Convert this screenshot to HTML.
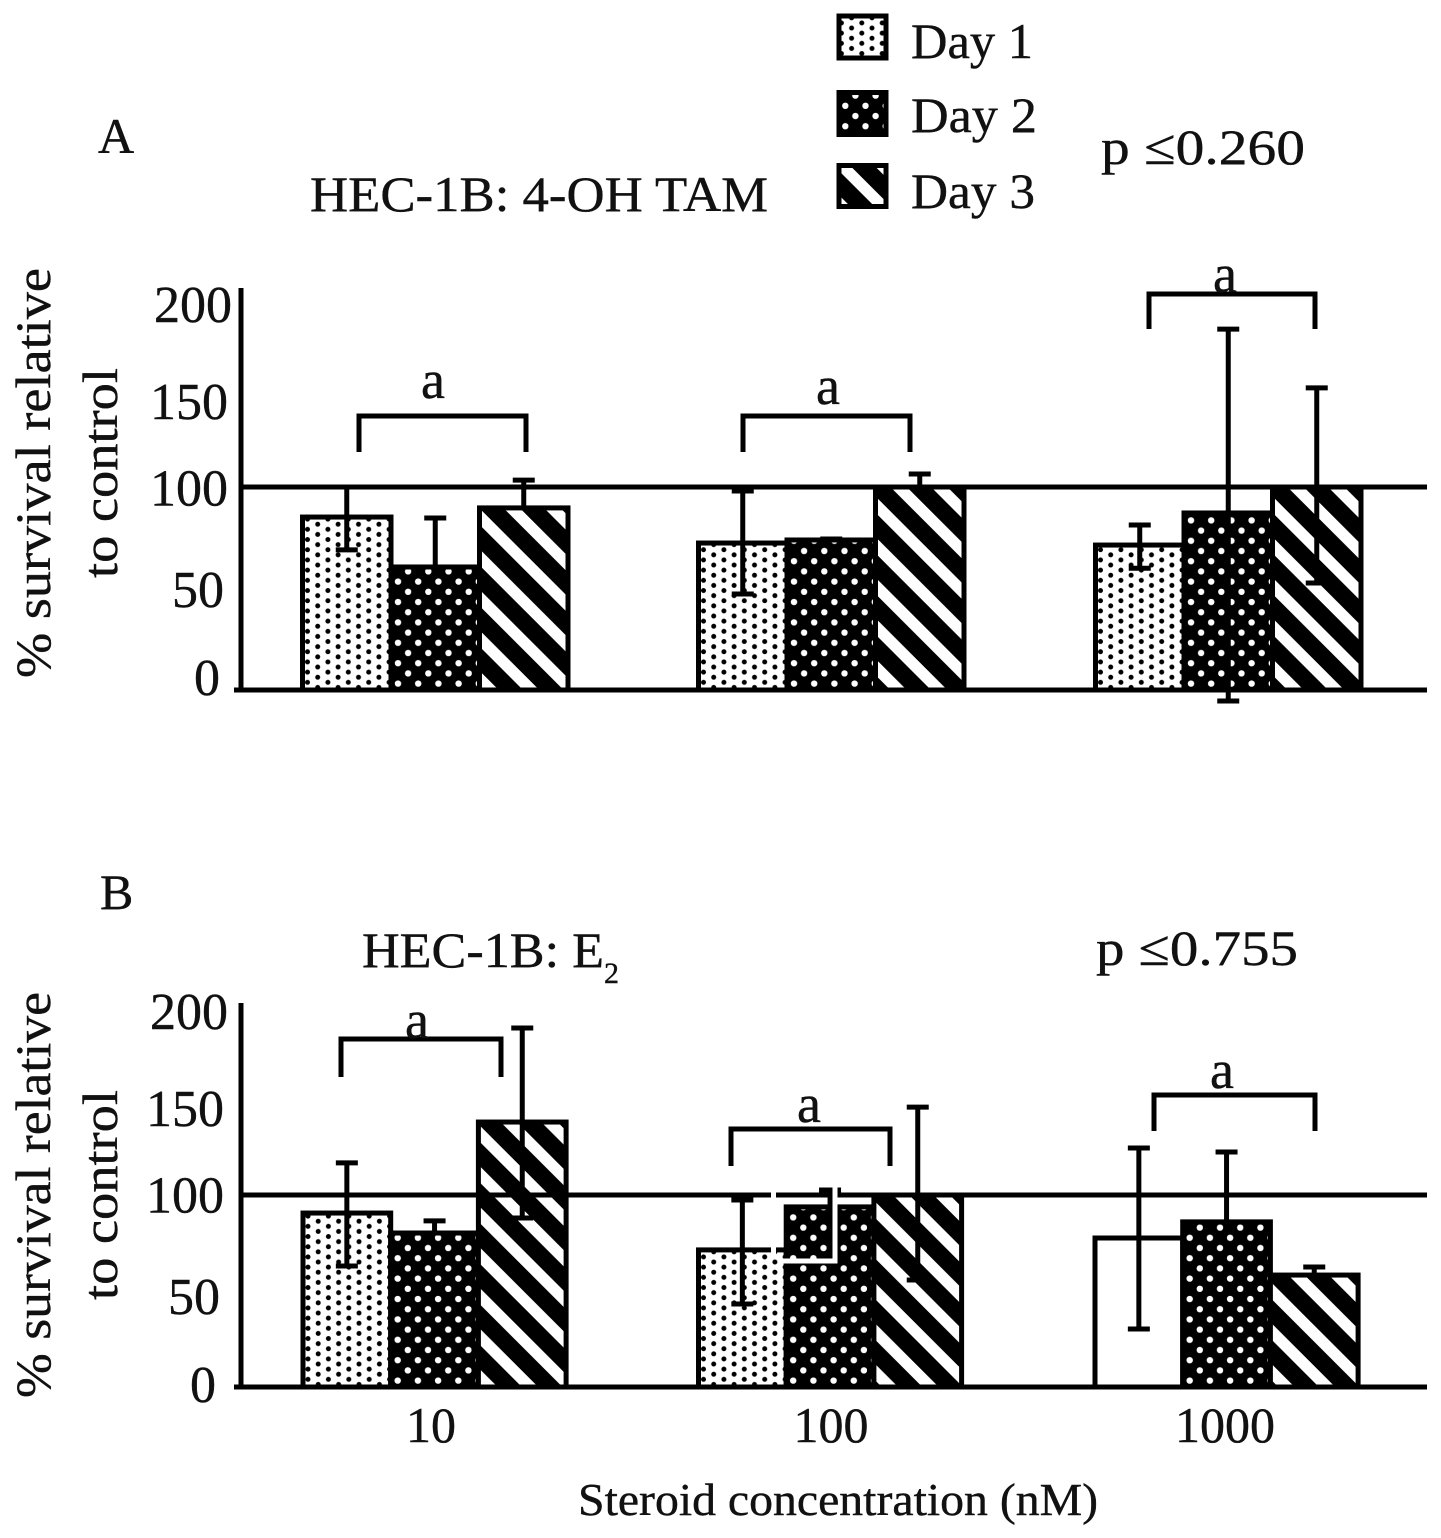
<!DOCTYPE html>
<html>
<head>
<meta charset="utf-8">
<title>HEC-1B survival charts</title>
<style>
html,body{margin:0;padding:0;background:#fff;}
svg{display:block;}
text{font-family:"Liberation Serif","DejaVu Serif",serif;fill:#111;stroke:#111;stroke-width:0.4px;}
</style>
</head>
<body>
<svg id="figure" xmlns="http://www.w3.org/2000/svg" width="1441" height="1538" viewBox="0 0 1441 1538">
  <defs>
    <pattern id="p-day1" patternUnits="userSpaceOnUse" width="20.4" height="10.2">
      <rect width="20.4" height="10.2" fill="#fff"/>
      <circle cx="5" cy="2.5" r="2.5" fill="#000"/>
      <circle cx="15.2" cy="7.6" r="2.5" fill="#000"/>
    </pattern>
    <pattern id="p-day2" patternUnits="userSpaceOnUse" width="20.2" height="20.4">
      <rect width="20.2" height="20.4" fill="#000"/>
      <circle cx="7" cy="14" r="3.2" fill="#fff"/>
      <circle cx="17.1" cy="3.8" r="3.2" fill="#fff"/>
    </pattern>
    <pattern id="p-day3" patternUnits="userSpaceOnUse" width="40.6" height="40.6">
      <rect width="40.6" height="40.6" fill="#000"/>
      <g shape-rendering="crispEdges" fill="#fff">
        <polygon points="0,0 0,16 40.6,56.6 40.6,40.6"/>
        <polygon points="0,-40.6 0,-24.6 40.6,16 40.6,0"/>
      </g>
    </pattern>
  </defs>

  <g id="legend">
    <g>
      <rect x="839" y="16" width="47" height="42" fill="url(#p-day1)" stroke="#000" stroke-width="5"/>
      <text x="911" y="58" font-size="50" textLength="122" lengthAdjust="spacingAndGlyphs">Day 1</text>
    </g>
    <g>
      <rect x="839" y="92.5" width="47" height="42" fill="url(#p-day2)" stroke="#000" stroke-width="5"/>
      <text x="911" y="132" font-size="50" textLength="126" lengthAdjust="spacingAndGlyphs">Day 2</text>
    </g>
    <g>
      <g transform="translate(0,6)">
        <rect x="839" y="159.5" width="47" height="41" fill="url(#p-day3)" stroke="#000" stroke-width="5"/>
      </g>
      <text x="911" y="208" font-size="50" textLength="124" lengthAdjust="spacingAndGlyphs">Day 3</text>
    </g>
  </g>

  <text x="98" y="153" font-size="50">A</text>
  <text x="310" y="211" font-size="50" textLength="458" lengthAdjust="spacingAndGlyphs">HEC-1B: 4-OH TAM</text>
  <text x="1101" y="164" font-size="50" textLength="204" lengthAdjust="spacingAndGlyphs">p ≤0.260</text>
  <text transform="translate(50,678) rotate(-90)" font-size="50" textLength="410" lengthAdjust="spacingAndGlyphs">% survival relative</text>
  <text transform="translate(117,578) rotate(-90)" font-size="50" textLength="210" lengthAdjust="spacingAndGlyphs">to control</text>

  <text x="100" y="909" font-size="50">B</text>
  <text x="362" y="967" font-size="50" textLength="242" lengthAdjust="spacingAndGlyphs">HEC-1B: E</text>
  <text x="604" y="983" font-size="30">2</text>
  <text x="1096" y="965" font-size="50" textLength="202" lengthAdjust="spacingAndGlyphs">p ≤0.755</text>
  <text transform="translate(50,1398) rotate(-90)" font-size="50" textLength="406" lengthAdjust="spacingAndGlyphs">% survival relative</text>
  <text transform="translate(117,1300) rotate(-90)" font-size="50" textLength="210" lengthAdjust="spacingAndGlyphs">to control</text>
  <text x="578" y="1515" font-size="46" textLength="520" lengthAdjust="spacingAndGlyphs">Steroid concentration (nM)</text>

  <g id="panel-a"></g>
  <g id="panel-b"></g>
  <g id="x-labels"></g>
</svg>

<script>
var categories = ['10', '100', '1000'];
var seriesNames = ['day-1', 'day-2', 'day-3'];
var yTickValues = [0, 50, 100, 150, 200];

var panelAValues = [[85.2, 60.6, 89.7], [72.4, 73.9, 100], [71.4, 87.2, 100]];
var panelAErrHigh = [[100, 84.7, 103.4], [98, 74.4, 106.4], [81.3, 177.8, 148.8]];
var panelAErrLow = [[69, 60.6, 89.7], [47.3, 73.9, 100], [60, -5.4, 52.7]];

var panelBValues = [[90.6, 80.2, 138], [71.4, 93.8, 100], [77.6, 86, 58.3]];
var panelBErrHigh = [[116.7, 86.5, 187], [97.4, 102.6, 145.8], [124.5, 122.4, 62.5]];
var panelBErrLow = [[63, 80.2, 88], [43.2, 65, 55.7], [30.2, 86, 58.3]];

var NS = 'http://www.w3.org/2000/svg';

function mk(parent, tag, attrs) {
  var el = document.createElementNS(NS, tag);
  for (var k in attrs) { el.setAttribute(k, attrs[k]); }
  parent.appendChild(el);
  return el;
}

function tickNudge(v) {
  if (v === 150) { return 3.5; }
  if (v === 100) { return -3; }
  if (v === 50) { return 5; }
  return 0;
}

function tickRight(v) {
  if (v === 200) { return 0; }
  if (v >= 100) { return -4; }
  if (v === 50) { return -8; }
  return -12;
}

function drawPanel(cfg) {
  var root = document.getElementById(cfg.id);
  function yScale(v) { return cfg.y0 - cfg.pxPerUnit * v; }
  function labelY(v) { return cfg.labelY0 - 1.865 * v + tickNudge(v); }
  function barLeft(g, s) { return cfg.groupLeft[g] + s * cfg.barWidth; }
  var g, s;

  for (g = 0; g < categories.length; g++) {
    for (s = 0; s < seriesNames.length; s++) {
      var left = barLeft(g, s);
      var top = yScale(cfg.values[g][s]);
      var plain = cfg.plainBar && cfg.plainBar[0] === g && cfg.plainBar[1] === s;
      var phase = s === 2 ? cfg.stripeShift[g] : 0;
      var holder = mk(root, 'g', { transform: 'translate(' + left + ',' + (cfg.y0 + phase) + ')' });
      
      
      var bar = mk(holder, 'rect', {
        x: 0,
        y: top - cfg.y0 - phase,
        width: cfg.barWidth,
        height: cfg.y0 - top,
        fill: plain ? '#fff' : 'url(#p-day' + (s + 1) + ')',
        stroke: '#000',
        'stroke-width': 5
      });
      
      
    }
  }

  var base = mk(root, 'line', { x1: 234, x2: 1427, y1: yScale(0), y2: yScale(0), stroke: '#000', 'stroke-width': 5 });
  
  
  var ref = mk(root, 'line', { x1: 241, x2: 1427, y1: yScale(100), y2: yScale(100), stroke: '#000', 'stroke-width': 5 });
  
  
  var axis = mk(root, 'line', { x1: 241, x2: 241, y1: yScale(cfg.axisMax), y2: yScale(0), stroke: '#000', 'stroke-width': 5 });
  
  

  for (g = 0; g < categories.length; g++) {
    for (s = 0; s < seriesNames.length; s++) {
      var cx = barLeft(g, s) + cfg.barWidth / 2;
      var hi = yScale(cfg.errHigh[g][s]);
      var lo = yScale(cfg.errLow[g][s]);
      var stem = mk(root, 'line', { x1: cx, x2: cx, y1: hi, y2: lo, stroke: '#000', 'stroke-width': 5 });
      
      
      var capTop = mk(root, 'line', { x1: cx - 11, x2: cx + 11, y1: hi, y2: hi, stroke: '#000', 'stroke-width': 5 });
      
      
      if (lo > hi && cfg.errLow[g][s] < cfg.values[g][s]) {
        var capLow = mk(root, 'line', { x1: cx - 11, x2: cx + 11, y1: lo, y2: lo, stroke: '#000', 'stroke-width': 5 });
        
        
      }
    }
  }

  for (var t = 0; t < yTickValues.length; t++) {
    var v = yTickValues[t];
    var label = mk(root, 'text', { x: cfg.labelRight + tickRight(v), y: labelY(v), 'text-anchor': 'end', 'font-size': 52 });
    
    
    label.textContent = String(v);
  }

  cfg.brackets.forEach(function (b) {
    var path = mk(root, 'path', {
      d: 'M' + b[0] + ',' + b[3] + ' V' + b[2] + ' H' + b[1] + ' V' + b[3],
      fill: 'none',
      stroke: '#000',
      'stroke-width': 5
    });
    
    
    var sig = mk(root, 'text', { x: b[4], y: b[5], 'text-anchor': 'middle', 'font-size': 54 });
    
    
    sig.textContent = 'a';
  });
}

drawPanel({
  id: 'panel-a',
  y0: 690,
  pxPerUnit: 2.03,
  labelY0: 695,
  labelRight: 232,
  axisMax: 198,
  barWidth: 88.5,
  groupLeft: [302.5, 698.5, 1095.5],
  stripeShift: [-19, -31, -31],
  values: panelAValues,
  errHigh: panelAErrHigh,
  errLow: panelAErrLow,
  brackets: [
    [359, 526, 416, 452, 433, 398],
    [743, 910, 416, 452, 828, 404],
    [1149, 1315, 294, 329, 1225, 292]
  ]
});

drawPanel({
  id: 'panel-b',
  y0: 1387,
  pxPerUnit: 1.92,
  labelY0: 1402,
  labelRight: 228,
  axisMax: 200,
  barWidth: 87.7,
  groupLeft: [303, 698.5, 1095],
  stripeShift: [-19, -24, -24],
  values: panelBValues,
  errHigh: panelBErrHigh,
  errLow: panelBErrLow,
  plainBar: [2, 0],
  brackets: [
    [341, 501, 1039, 1077, 417, 1038],
    [731, 890, 1129, 1166, 809, 1122],
    [1154, 1315, 1095, 1131, 1222, 1088]
  ]
});

var panelB = document.getElementById('panel-b');
var artifact = mk(panelB, 'path', {
  d: 'M783,1261 H835 V1187 M773.5,1190 V1199 M773.5,1247 V1256',
  fill: 'none',
  stroke: '#fff',
  'stroke-width': 5
});



var xRoot = document.getElementById('x-labels');
var xCenters = { '10': 431, '100': 831, '1000': 1225 };
categories.forEach(function (c) {
  var tick = mk(xRoot, 'text', { x: xCenters[c], y: 1442, 'text-anchor': 'middle', 'font-size': 50 });
  
  
  tick.textContent = c;
});
</script>
</body>
</html>
